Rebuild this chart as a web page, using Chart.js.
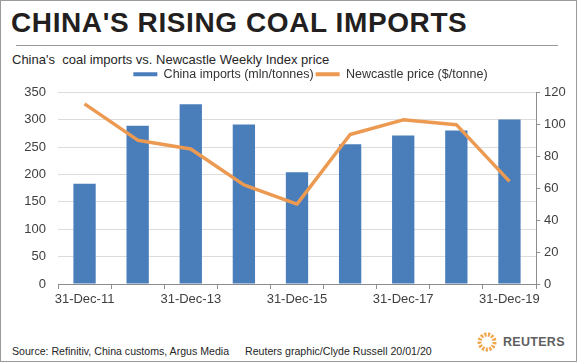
<!DOCTYPE html>
<html>
<head>
<meta charset="utf-8">
<script src="https://cdn.jsdelivr.net/npm/chart.js@4/dist/chart.umd.min.js"></script>
<style>
    * {
        margin: 0;
        padding: 0;
    }

    body {
        width: 577px;
        height: 362px;
        overflow: hidden;
        background: #fff;
        font-family: "Liberation Sans", Arial, sans-serif;
    }

    .frame {
        position: relative;
        width: 577px;
        height: 362px;
        box-sizing: border-box;
        border: 1px solid #9a9a9a;
    }

    .title {
        position: absolute;
        left: 10px;
        top: 8px;
        font-size: 28px;
        line-height: 28px;
        font-weight: bold;
        letter-spacing: 0.6px;
        color: #231f20;
        white-space: nowrap;
    }

    .rule {
        position: absolute;
        left: 15px;
        top: 44px;
        width: 542px;
        height: 1px;
        background: #9a9a9a;
    }

    .subtitle {
        position: absolute;
        left: 11px;
        top: 52px;
        font-size: 13px;
        line-height: 13px;
        color: #262626;
        white-space: pre;
    }

    #chartBox {
        position: absolute;
        left: 0;
        top: 62px;
        width: 577px;
        height: 250px;
    }

    .foot {
        position: absolute;
        top: 345px;
        font-size: 10.6px;
        line-height: 11px;
        color: #262626;
        white-space: nowrap;
    }

    .logo {
        position: absolute;
        left: 475px;
        top: 330px;
    }

    .logo-text {
        position: absolute;
        left: 502px;
        top: 335px;
        font-size: 12.5px;
        line-height: 12.5px;
        font-weight: bold;
        letter-spacing: 0.3px;
        color: #5f5f5f;
    }
</style>
</head>
<body>
<div class="frame">
    <div class="title">CHINA'S RISING COAL IMPORTS</div>
    <div class="rule"></div>
    <div class="subtitle">China's  coal imports vs. Newcastle Weekly Index price</div>
    <div id="chartBox"><canvas id="mainChart"></canvas></div>
    <div class="foot" style="left: 11px;">Source: Refinitiv, China customs, Argus Media</div>
    <div class="foot" style="left: 244px;">Reuters graphic/Clyde Russell 20/01/20</div>
    <svg class="logo" width="22" height="22" viewBox="0 0 22 22">
        <circle cx="11" cy="11" r="7.5" fill="none" stroke="#f0a548" stroke-width="4" stroke-dasharray="2.2 1.4"/>
    </svg>
    <div class="logo-text">REUTERS</div>
</div>

<script>
//  D A T A  //
const years = ["31-Dec-11", "31-Dec-12", "31-Dec-13", "31-Dec-14", "31-Dec-15",
               "31-Dec-16", "31-Dec-17", "31-Dec-18", "31-Dec-19"];
const chinaImports = [183, 289, 328, 291, 204, 255, 271, 280, 300];
const newcastlePrice = [112.7, 90, 84.5, 62, 50, 93.5, 102.7, 99.7, 64.2];
const leftTicks = [0, 50, 100, 150, 200, 250, 300, 350];
const rightTicks = [0, 20, 40, 60, 80, 100, 120];

const blue = "#4a7ebb";
const orange = "#ec9a52";
const axisGrey = "#8c8c8c";
const textGrey = "#404040";
const font = "'Liberation Sans', Arial, sans-serif";

// moves the legend a bit so it sits where the original one does
const nudgeLegend = {
    id: "nudgeLegend",
    afterLayout(chart) {
        const lg = chart.legend;
        lg.left += 21;
        lg.right += 21;
        lg.top -= 1.7;
        lg.bottom -= 1.7;
    }
};

const ctx = document.getElementById("mainChart").getContext("2d");
new Chart(ctx, {
    type: "bar",
    data: {
        labels: years,
        datasets: [
            {
                label: "China imports (mln/tonnes)",
                data: chinaImports,
                backgroundColor: blue,
                borderWidth: 0,
                categoryPercentage: 1,
                barPercentage: 0.42,
                yAxisID: "y",
                order: 1
            },
            {
                type: "line",
                label: "Newcastle price ($/tonne)",
                data: newcastlePrice,
                borderColor: orange,
                backgroundColor: orange,
                borderWidth: 3.5,
                pointRadius: 0,
                tension: 0,
                borderJoinStyle: "round",
                yAxisID: "y2",
                order: 0
            }
        ]
    },
    options: {
        responsive: true,
        maintainAspectRatio: false,
        animation: false,
        devicePixelRatio: 1,
        layout: { padding: { top: 4.7, left: 0, right: 0, bottom: 0 } },
        plugins: {
            legend: {
                display: true,
                position: "top",
                labels: {
                    boxWidth: 24,
                    boxHeight: 4,
                    padding: 2,
                    color: "#333",
                    font: { family: font, size: 12.5 },
                    sort: (a, b) => a.datasetIndex - b.datasetIndex,
                    generateLabels(chart) {
                        return Chart.defaults.plugins.legend.labels.generateLabels(chart)
                            .map(item => ({ ...item, lineWidth: 0 }));
                    }
                }
            },
            tooltip: { enabled: false }
        },
        scales: {
            x: {
                offset: true,
                grid: {
                    offset: true,
                    drawOnChartArea: false,
                    drawTicks: true,
                    tickLength: 5,
                    color: axisGrey
                },
                border: { display: true, color: axisGrey },
                ticks: {
                    autoSkip: false,
                    maxRotation: 0,
                    padding: 3,
                    color: textGrey,
                    font: { family: font, size: 13 },
                    callback: (val, i) => i % 2 === 0 ? years[i] : ""
                },
                afterFit: s => { s.height = 29; }
            },
            y: {
                position: "left",
                min: 0,
                max: 350,
                afterBuildTicks: s => { s.ticks = leftTicks.map(v => ({ value: v })); },
                grid: {
                    drawTicks: false,
                    color: "#dcdcdc"
                },
                border: { display: false },
                ticks: {
                    padding: 12,
                    color: textGrey,
                    font: { family: font, size: 13 }
                },
                afterFit: s => { s.width = 57; }
            },
            y2: {
                position: "right",
                min: 0,
                max: 120,
                afterBuildTicks: s => { s.ticks = rightTicks.map(v => ({ value: v })); },
                grid: {
                    drawOnChartArea: false,
                    drawTicks: true,
                    tickLength: 4,
                    color: axisGrey
                },
                border: { display: true, color: axisGrey },
                ticks: {
                    padding: 4,
                    color: textGrey,
                    font: { family: font, size: 13 }
                },
                afterFit: s => { s.width = 42; }
            }
        }
    },
    plugins: [nudgeLegend]
});
</script>
</body>
</html>
